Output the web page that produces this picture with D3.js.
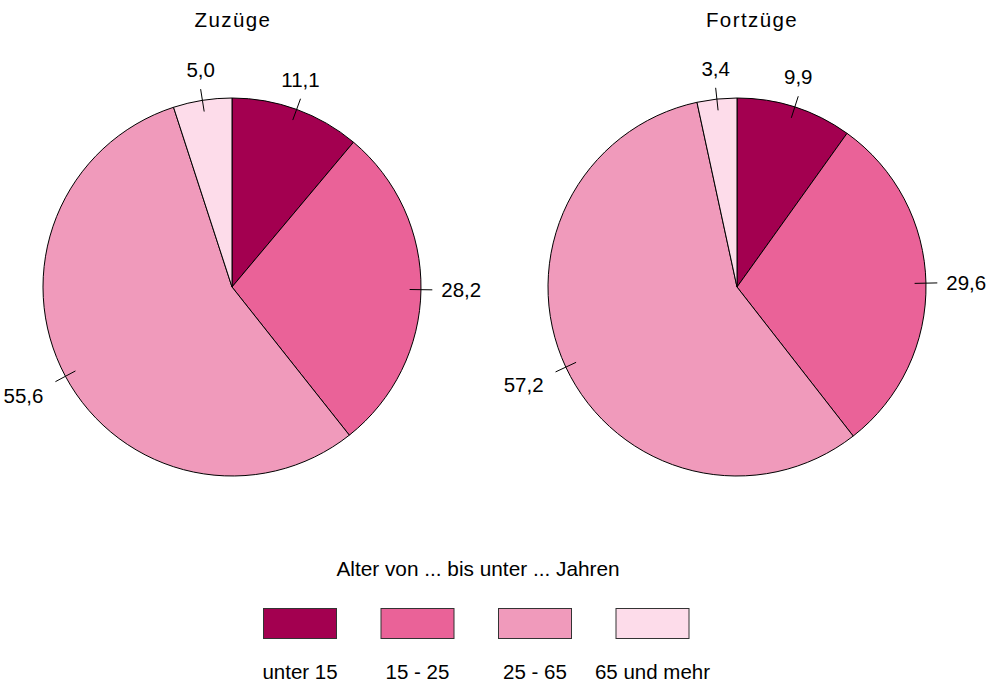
<!DOCTYPE html>
<html>
<head>
<meta charset="utf-8">
<script src="https://cdn.jsdelivr.net/npm/d3@7"></script>
<style>
  body { margin: 0; background: #fff; }
  svg { display: block; font-family: Arial, "Liberation Sans", sans-serif; }
</style>
</head>
<body>
<svg width="989" height="682"></svg>
<script>
// Altersgruppen und Anteile in %
var categories = ['unter 15', '15 - 25', '25 - 65', '65 und mehr'];
var colors = ['#a30050', '#ea6298', '#f09abb', '#fddcea'];
var zuzuege = [11.1, 28.2, 55.6, 5.0];
var fortzuege = [9.9, 29.6, 57.2, 3.4];
var titles = ['Zuzüge', 'Fortzüge'];
var legendTitle = 'Alter von ... bis unter ... Jahren';

var svg = d3.select('svg');
var radius = 189;
var fmt = function (v) { return v.toFixed(1).replace('.', ','); };

// pie positions
var pies = [
    { title: titles[0], values: zuzuege, cx: 232, cy: 287, tx: 233 },
    { title: titles[1], values: fortzuege, cx: 737, cy: 287, tx: 752 }
];

var color = d3.scaleOrdinal().domain(categories).range(colors);
var pie = d3.pie().sort(null).value(function (d) { return d.value; });
var arc = d3.arc().innerRadius(0).outerRadius(radius);

pies.forEach(function (p) {
    var data = p.values.map(function (v, i) {
        return { cat: categories[i], value: v };
    });
    var g = svg.append('g').attr('transform', 'translate(' + p.cx + ',' + p.cy + ')');

    g.selectAll('path.slice')
        .data(pie(data))
        .enter()
        .append('path')
        .attr('class', 'slice')
        .attr('d', arc)
        .attr('fill', function (d) { return color(d.data.cat); })
        .attr('stroke', '#000')
        .attr('stroke-width', 1);

    // label ticks + text
    pie(data).forEach(function (d) {
        var a = (d.startAngle + d.endAngle) / 2;
        var s = Math.sin(a), c = -Math.cos(a);
        var x1 = s * radius * 0.94, y1 = c * radius * 0.94;
        var x2 = s * radius * 1.06, y2 = c * radius * 1.06;
        g.append('line')
            .attr('x1', x1).attr('y1', y1)
            .attr('x2', x2).attr('y2', y2)
            .attr('stroke', '#000')
            .attr('stroke-width', 1);

        var t = g.append('text')
            .attr('font-size', '20.5px')
            .attr('fill', '#000')
            .text(fmt(d.data.value));
        if (Math.abs(s) > 0.7) {
            // side label, lower ones sit a bit lower
            t.attr('x', x2 + (s > 0 ? 9 : -12))
                .attr('y', y2 + Math.max(c, 0) * 30)
                .attr('dy', '0.35em')
                .attr('text-anchor', s > 0 ? 'start' : 'end');
        } else {
            t.attr('x', x2)
                .attr('y', y2 + (c < 0 ? -12 : 24))
                .attr('text-anchor', 'middle');
        }
    });

    svg.append('text')
        .attr('x', p.tx)
        .attr('y', 27)
        .attr('text-anchor', 'middle')
        .attr('font-size', '20.5px')
        .attr('letter-spacing', '1.4px')
        .text(p.title);
});

// legend
var lx = d3.scalePoint().domain(categories).range([300, 652.5]);

svg.append('text')
    .attr('x', 478)
    .attr('y', 576)
    .attr('text-anchor', 'middle')
    .attr('font-size', '20.8px')
    .text(legendTitle);

var leg = svg.selectAll('g.leg')
    .data(categories)
    .enter()
    .append('g')
    .attr('class', 'leg')
    .attr('transform', function (d) { return 'translate(' + lx(d) + ',0)'; });

leg.append('rect')
    .attr('x', -36.5)
    .attr('y', 608.5)
    .attr('width', 73)
    .attr('height', 30)
    .attr('fill', function (d) { return color(d); })
    .attr('stroke', '#333')
    .attr('stroke-width', 1);

leg.append('text')
    .attr('y', 679)
    .attr('text-anchor', 'middle')
    .attr('font-size', '20.5px')
    .text(function (d) { return d; });
</script>
</body>
</html>
